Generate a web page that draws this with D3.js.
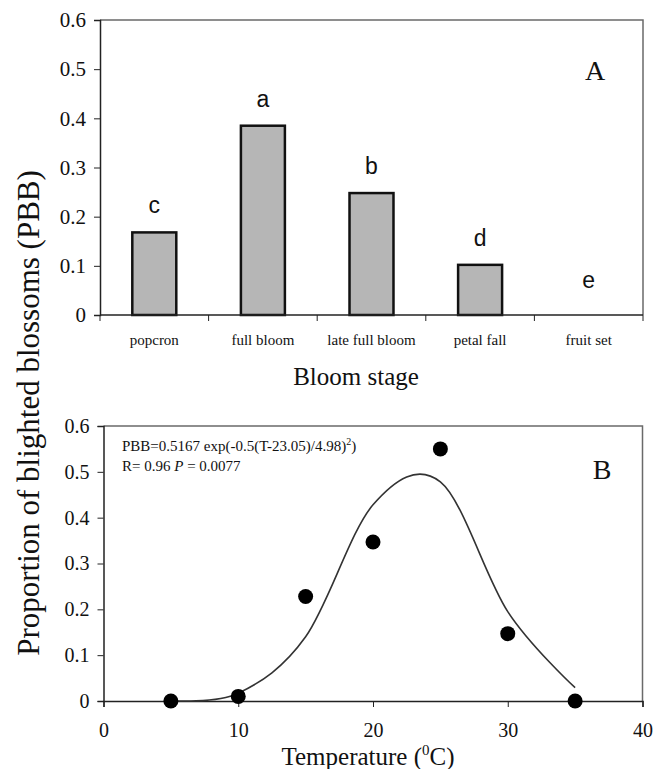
<!DOCTYPE html>
<html>
<head>
<meta charset="utf-8">
<script src="https://cdn.jsdelivr.net/npm/d3@7"></script>
<style>
  body { margin: 0; background: #fff; }
  svg text { font-family: "Liberation Serif", "Times New Roman", serif; fill: #111; }
  .sans { font-family: "Liberation Sans", Arial, sans-serif !important; }
</style>
</head>
<body>
<div id="chart"></div>
<script>
'use strict'

// ---- data ----
const stages = ['popcron', 'full bloom', 'late full bloom', 'petal fall', 'fruit set']
const pbbStage = [0.168, 0.385, 0.248, 0.102, 0]
const stageLetters = ['c', 'a', 'b', 'd', 'e']

const temps = [5, 10, 15, 20, 25, 30, 35]
const pbbTemp = [0, 0.01, 0.228, 0.347, 0.55, 0.147, 0]
// fitted values at each temperature, as drawn by the smoothed curve
const pbbFit = [0.001, 0.017, 0.14, 0.428, 0.478, 0.195, 0.029]

const yTicks = [0, 0.1, 0.2, 0.3, 0.4, 0.5, 0.6]
const xTicks = [0, 10, 20, 30, 40]

////////////////////////////////////
//////////// svg setup /////////////
////////////////////////////////////
const svgWidth = 661
const svgHeight = 769

const svg = d3.select('#chart')
    .append('svg')
    .attr('width', svgWidth)
    .attr('height', svgHeight)

svg.append('rect')
    .attr('width', svgWidth)
    .attr('height', svgHeight)
    .attr('fill', '#fff')

const frameColor = '#6a6a6a'

////////////////////////////////////
//////////// panel A ///////////////
////////////////////////////////////
const a = { left: 100, right: 643, top: 20, bottom: 315 }

const xA = d3.scaleBand()
    .domain(stages)
    .range([a.left, a.right])
    .paddingInner(0.595)
    .paddingOuter(0.2975)

const yA = d3.scaleLinear()
    .domain([0, 0.6])
    .range([a.bottom, a.top])

// frame (top + right)
svg.append('path')
    .attr('d', `M${a.left},${a.top}H${a.right}V${a.bottom}`)
    .attr('fill', 'none')
    .attr('stroke', frameColor)
    .attr('stroke-width', 1.5)

const yAxisA = svg.append('g')
    .attr('transform', `translate(${a.left},0)`)
    .call(d3.axisLeft(yA).tickValues(yTicks).tickSize(6).tickPadding(8)
        .tickFormat(d => d === 0 ? '0' : d3.format('.1f')(d)))
yAxisA.selectAll('text').attr('font-size', '21px')

// category boundaries as ticks
const stepA = (a.right - a.left) / stages.length
svg.append('g')
    .selectAll('line')
    .data(d3.range(stages.length + 1))
    .join('line')
    .attr('x1', i => a.left + i * stepA)
    .attr('x2', i => a.left + i * stepA)
    .attr('y1', a.bottom)
    .attr('y2', a.bottom + 6)
    .attr('stroke', '#222')
    .attr('stroke-width', 1)

svg.append('g')
    .selectAll('text')
    .data(stages)
    .join('text')
    .attr('x', d => xA(d) + xA.bandwidth() / 2)
    .attr('y', a.bottom + 30)
    .attr('text-anchor', 'middle')
    .attr('font-size', '15px')
    .text(d => d)

svg.append('g')
    .selectAll('rect')
    .data(stages)
    .join('rect')
    .attr('x', d => xA(d))
    .attr('width', xA.bandwidth())
    .attr('y', (d, i) => yA(pbbStage[i]))
    .attr('height', (d, i) => yA(0) - yA(pbbStage[i]))
    .attr('fill', '#b6b6b6')
    .attr('stroke', '#111')
    .attr('stroke-width', (d, i) => pbbStage[i] > 0 ? 2.5 : 0)

svg.append('g')
    .selectAll('text')
    .data(stages)
    .join('text')
    .attr('class', 'sans')
    .attr('x', d => xA(d) + xA.bandwidth() / 2)
    .attr('y', (d, i) => yA(pbbStage[i]) - (pbbStage[i] > 0 ? 19 : 27))
    .attr('text-anchor', 'middle')
    .attr('font-size', '23px')
    .text((d, i) => stageLetters[i])

// bottom axis line
svg.append('line')
    .attr('x1', a.left).attr('x2', a.right)
    .attr('y1', a.bottom).attr('y2', a.bottom)
    .attr('stroke', '#222').attr('stroke-width', 1.5)

svg.append('text')
    .attr('x', 595)
    .attr('y', 80)
    .attr('text-anchor', 'middle')
    .attr('font-size', '28px')
    .text('A')

svg.append('text')
    .attr('x', 356)
    .attr('y', 385)
    .attr('text-anchor', 'middle')
    .attr('font-size', '25px')
    .text('Bloom stage')

////////////////////////////////////
//////////// panel B ///////////////
////////////////////////////////////
const b = { left: 103.5, right: 642.5, top: 426, bottom: 701 }

const xB = d3.scaleLinear()
    .domain([0, 40])
    .range([b.left, b.right])

const yB = d3.scaleLinear()
    .domain([0, 0.6])
    .range([b.bottom, b.top])

svg.append('path')
    .attr('d', `M${b.left},${b.top}H${b.right}V${b.bottom}`)
    .attr('fill', 'none')
    .attr('stroke', frameColor)
    .attr('stroke-width', 1.5)

const yAxisB = svg.append('g')
    .attr('transform', `translate(${b.left},0)`)
    .call(d3.axisLeft(yB).tickValues(yTicks).tickSize(6).tickPadding(8)
        .tickFormat(d => d === 0 ? '0' : d3.format('.1f')(d)))
yAxisB.selectAll('text').attr('font-size', '20px')

const xAxisB = svg.append('g')
    .attr('transform', `translate(0,${b.bottom})`)
    .call(d3.axisBottom(xB).tickValues(xTicks).tickSize(6).tickPadding(16))
xAxisB.selectAll('text').attr('font-size', '20px')

svg.selectAll('.domain')
    .attr('stroke', '#222')
    .attr('stroke-width', 1.5)

svg.selectAll('.tick line').attr('stroke', '#222')

// fitted curve
const line = d3.line()
    .x((d, i) => xB(temps[i]))
    .y(d => yB(d))
    .curve(d3.curveCardinal.tension(0))

svg.append('path')
    .datum(pbbFit)
    .attr('d', line)
    .attr('fill', 'none')
    .attr('stroke', '#333')
    .attr('stroke-width', 1.6)

svg.append('g')
    .selectAll('circle')
    .data(pbbTemp)
    .join('circle')
    .attr('cx', (d, i) => xB(temps[i]))
    .attr('cy', d => yB(d))
    .attr('r', 7.5)
    .attr('fill', '#000')

const eq = svg.append('text')
    .attr('x', 122)
    .attr('y', 451)
    .attr('font-size', '15px')
eq.append('tspan').text('PBB=0.5167 exp(-0.5(T-23.05)/4.98)')
eq.append('tspan').attr('font-size', '10px').attr('dy', -6).text('2')
eq.append('tspan').attr('dy', 6).text(')')

const rr = svg.append('text')
    .attr('x', 122)
    .attr('y', 471)
    .attr('font-size', '15px')
rr.append('tspan').text('R= 0.96 ')
rr.append('tspan').attr('font-style', 'italic').text('P')
rr.append('tspan').text(' = 0.0077')

svg.append('text')
    .attr('x', 602)
    .attr('y', 479)
    .attr('text-anchor', 'middle')
    .attr('font-size', '28px')
    .text('B')

const tl = svg.append('text')
    .attr('x', 368)
    .attr('y', 765)
    .attr('text-anchor', 'middle')
    .attr('font-size', '25px')
tl.append('tspan').text('Temperature (')
tl.append('tspan').attr('font-size', '15px').attr('dy', -10).text('0')
tl.append('tspan').attr('dy', 10).text('C)')

// shared y label
svg.append('text')
    .attr('transform', 'translate(39,413) rotate(-90)')
    .attr('text-anchor', 'middle')
    .attr('font-size', '31px')
    .text('Proportion of blighted blossoms (PBB)')
</script>
</body>
</html>
